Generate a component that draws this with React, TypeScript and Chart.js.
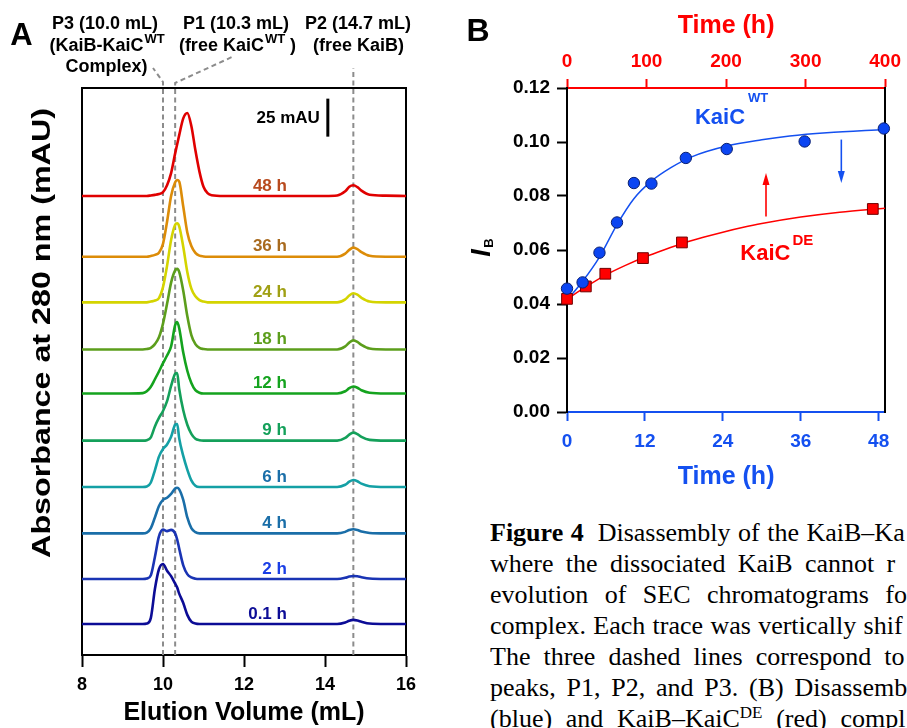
import React, { useEffect, useRef } from 'react';
import { Chart, registerables } from 'chart.js';

Chart.register(...registerables);

const FONT = "'Liberation Sans', Arial, Helvetica, sans-serif";
const BLUE = '#1450f0';
const RED = '#ff0000';

// ---------------- Panel A : SEC chromatograms ----------------
const elutionVolumes = [8, 9, 9.5, 9.6, 9.7, 9.8, 9.9, 10.0, 10.1, 10.2, 10.3, 10.35, 10.4, 10.5, 10.6, 10.7, 10.8, 10.9, 11.0, 11.1, 11.2, 11.5, 12, 13, 14, 14.3, 14.5, 14.6, 14.7, 14.8, 14.9, 15.1, 15.5, 16];
const volumeTicks = [8, 10, 12, 14, 16];
const timeLabels = ['0.1 h', '2 h', '4 h', '6 h', '9 h', '12 h', '18 h', '24 h', '36 h', '48 h'];
const traceOffsets = [20.4, 50, 80, 110.5, 141, 172, 201, 232, 262, 302];

const trace01h = [0, 0, 0, 0.3, 4, 23, 36, 39.5, 35, 31.5, 26.5, 24, 20, 13.8, 6, 1.5, 0.3, 0, 0, 0, 0, 0, 0, 0, 0, 0, 1, 2.2, 2.7, 2.3, 1.5, 0.3, 0, 0];
const trace2h = [0, 0, 0, 0.3, 2.5, 14.5, 28, 32.5, 31.5, 32.3, 30, 26, 20, 9, 3.2, 1, 0.2, 0, 0, 0, 0, 0, 0, 0, 0, 0, 0.8, 1.6, 2, 1.8, 1.2, 0.3, 0, 0];
const trace4h = [0, 0, 0, 0.5, 3.5, 10.5, 18, 22, 23.5, 26, 29.5, 30, 29, 22, 10.5, 3.5, 0.8, 0, 0, 0, 0, 0, 0, 0, 0, 0, 1, 2.2, 2.7, 2.2, 1.2, 0.3, 0, 0];
const trace6h = [0, 0, 0, 0.3, 3, 11, 20, 25, 28, 33, 41, 41.5, 32, 20.5, 11.5, 4.4, 0.8, 0, 0, 0, 0, 0, 0, 0, 0, 0, 1.5, 3.5, 4.6, 3.8, 2.2, 0.5, 0, 0];
const trace9h = [0, 0, 0, 0.3, 2.2, 9.4, 15, 19.5, 26, 36, 44, 44.5, 34, 20, 10.5, 4.5, 1.3, 0.3, 0, 0, 0, 0, 0, 0, 0, 0, 1.8, 4, 5.3, 4.3, 2.5, 0.5, 0, 0];
const trace12h = [0, 0, 0.3, 1.5, 4.5, 9.4, 14.5, 20, 25, 31, 45, 47, 43, 27, 15, 7, 2.2, 0.5, 0, 0, 0, 0, 0, 0, 0, 0, 1.5, 3.5, 4.6, 3.8, 2.2, 0.5, 0, 0];
const trace18h = [0, 0, 0, 0.3, 1, 3.5, 8, 17, 30, 44, 52, 53, 51, 38.6, 22, 9.5, 3.5, 1, 0.3, 0, 0, 0, 0, 0, 0, 0, 2, 4.5, 6, 5, 3, 0.6, 0, 0];
const trace24h = [0, 0, 0, 0, 0.5, 1.2, 2.8, 10, 24, 41, 51, 52, 50, 36.6, 20, 9, 4, 1.5, 0.5, 0, 0, 0, 0, 0, 0, 0, 2, 4.5, 6, 5, 3, 0.6, 0, 0];
const trace36h = [0, 0, 0, 0, 0.5, 1.2, 2.6, 8.5, 23, 40, 49, 50.5, 49.5, 33, 16, 7, 2.5, 0.7, 0.2, 0, 0, 0, 0, 0, 0, 0, 2, 4.5, 6, 5, 3, 0.6, 0, 0];
const trace48h = [0, 0, 0, 0, 0.3, 0.7, 1.3, 2.5, 7, 15, 28, 34, 40, 51, 54.6, 46, 30, 16, 6, 1.8, 0.5, 0, 0, 0, 0, 0.3, 3, 6, 7, 5.8, 3.5, 0.8, 0.2, 0];
const traces = [trace01h, trace2h, trace4h, trace6h, trace9h, trace12h, trace18h, trace24h, trace36h, trace48h];

const traceColors = ['#0c0c96', '#1a34b4', '#1a6ea8', '#14a0a5', '#14a05a', '#14a31e', '#5c9e1c', '#d4d400', '#dc8c08', '#e00000'];
const labelColors = ['#0c0c96', '#1a3ee6', '#1a6ea8', '#1a6ea8', '#14a05a', '#14a31e', '#5c9e1c', '#a0a014', '#a86a1e', '#b84a1e'];

const peakVolumes = [10.0, 10.3, 14.7];
const scaleBarVolume = 14.07;
const scaleBarStart = 341;
const scaleBarSize = 25;
const traceLabelVolume = 13.06;
const traceLabelLift = 6.6;

// ---------------- Panel B : I_B vs time ----------------
const hourTicks = [0, 12, 24, 36, 48];
const topHourTicks = [0, 100, 200, 300, 400];
const ibTicks = [0, 0.02, 0.04, 0.06, 0.08, 0.1, 0.12];

const wtTimes = [0, 2.4, 5.0, 7.7, 10.3, 13.0, 18.3, 24.6, 36.6, 48.8];
const wtValues = [0.0457, 0.048, 0.059, 0.0702, 0.0848, 0.0846, 0.0941, 0.0974, 0.1002, 0.105];
const deTimes = [0, 2.9, 5.9, 11.7, 17.7, 47.1];
const deValues = [0.0419, 0.0465, 0.0512, 0.057, 0.0628, 0.0752];

const wtFitTimes = [0.3, 2.4, 5, 7.7, 10.3, 13, 16, 19.2, 24.6, 30, 34.3, 40, 48.9];
const wtFitValues = [0.0422, 0.0484, 0.0574, 0.0694, 0.079, 0.0855, 0.0905, 0.0945, 0.0985, 0.1008, 0.1022, 0.1034, 0.1046];
const deFitTimes = [0, 3, 6, 9, 12, 15, 18, 21, 24, 27, 30, 36, 42, 49];
const deFitValues = [0.0418, 0.0465, 0.0508, 0.0543, 0.0574, 0.0601, 0.0626, 0.0647, 0.0666, 0.0683, 0.0698, 0.0722, 0.074, 0.0755];

const upArrow = { time: 30.65, from: 0.0724, to: 0.0885 };
const downArrow = { time: 42.25, from: 0.1009, to: 0.0848 };
const wtLabelPos = { time: 19.7, value: 0.109 };
const deLabelPos = { time: 26.7, value: 0.0586 };

type Part = { t: string; size: number; dy?: number; dx?: number };

function drawRich(ctx: CanvasRenderingContext2D, parts: Part[], x: number, y: number, align: 'left' | 'center' | 'right', color: string) {
  ctx.save();
  ctx.fillStyle = color;
  ctx.textBaseline = 'middle';
  ctx.textAlign = 'left';
  const widths = parts.map((p) => {
    ctx.font = `bold ${p.size}px ${FONT}`;
    return ctx.measureText(p.t).width + (p.dx || 0);
  });
  const total = widths.reduce((a, b) => a + b, 0);
  let cx = align === 'left' ? x : align === 'center' ? x - total / 2 : x - total;
  parts.forEach((p, i) => {
    ctx.font = `bold ${p.size}px ${FONT}`;
    ctx.fillText(p.t, cx + (p.dx || 0), y + (p.dy || 0));
    cx += widths[i];
  });
  ctx.restore();
}

const panelAPlugin = {
  id: 'panelA',
  beforeDatasetsDraw(chart: any) {
    const { ctx, chartArea, scales } = chart;
    const xs = scales.x;
    ctx.save();
    ctx.strokeStyle = '#8c8c8c';
    ctx.lineWidth = 2;
    ctx.setLineDash([5, 3.5]);
    peakVolumes.forEach((v, i) => {
      const px = xs.getPixelForValue(v);
      ctx.beginPath();
      ctx.moveTo(px, chartArea.bottom);
      if (i === 0) {
        ctx.lineTo(px, chartArea.top - 6);
        ctx.lineTo(153, 68);
      } else if (i === 1) {
        ctx.lineTo(px, chartArea.top - 5);
        ctx.lineTo(232, 57);
      } else {
        ctx.lineTo(px, 68);
      }
      ctx.stroke();
    });
    ctx.restore();
  },
  afterDraw(chart: any) {
    const { ctx, scales } = chart;
    const xs = scales.x;
    const ys = scales.y;
    ctx.save();
    ctx.fillStyle = '#000';
    ctx.font = `bold 31px ${FONT}`;
    ctx.textAlign = 'center';
    ctx.textBaseline = 'middle';
    ctx.fillText('A', 21.5, 36);
    ctx.restore();

    drawRich(ctx, [{ t: 'P3 (10.0 mL)', size: 18 }], 105, 24, 'center', '#000');
    drawRich(ctx, [{ t: '(KaiB-KaiC', size: 18 }, { t: 'WT', size: 13, dy: -7, dx: 1 }], 107, 46, 'center', '#000');
    drawRich(ctx, [{ t: 'Complex)', size: 18 }], 106.5, 67, 'center', '#000');
    drawRich(ctx, [{ t: 'P1 (10.3 mL)', size: 18 }], 236, 24, 'center', '#000');
    drawRich(ctx, [{ t: '(free KaiC', size: 18 }, { t: 'WT', size: 13, dy: -7, dx: 1 }, { t: ' )', size: 18 }], 237.5, 46, 'center', '#000');
    drawRich(ctx, [{ t: 'P2 (14.7 mL)', size: 18 }], 358, 24, 'center', '#000');
    drawRich(ctx, [{ t: '(free KaiB)', size: 18 }], 358.5, 46, 'center', '#000');

    timeLabels.forEach((lab, i) => {
      drawRich(ctx, [{ t: lab, size: 17 }], xs.getPixelForValue(traceLabelVolume), ys.getPixelForValue(traceOffsets[i] + traceLabelLift), 'right', labelColors[i]);
    });

    const bx = xs.getPixelForValue(scaleBarVolume);
    const by1 = ys.getPixelForValue(scaleBarStart);
    const by2 = ys.getPixelForValue(scaleBarStart + scaleBarSize);
    ctx.save();
    ctx.strokeStyle = '#000';
    ctx.lineWidth = 3;
    ctx.beginPath();
    ctx.moveTo(bx, by1);
    ctx.lineTo(bx, by2);
    ctx.stroke();
    ctx.restore();
    drawRich(ctx, [{ t: '25 mAU', size: 17 }], bx - 8, (by1 + by2) / 2 + 1, 'right', '#000');

    ctx.save();
    ctx.translate(43, 333);
    ctx.rotate(-Math.PI / 2);
    ctx.scale(1.29, 1);
    ctx.fillStyle = '#000';
    ctx.font = `bold 25px ${FONT}`;
    ctx.textAlign = 'center';
    ctx.textBaseline = 'middle';
    ctx.fillText('Absorbance at 280 nm (mAU)', 0, 0);
    ctx.restore();
  },
};

function drawArrow(ctx: CanvasRenderingContext2D, x: number, yTail: number, yHead: number, color: string) {
  const dir = Math.sign(yHead - yTail);
  ctx.save();
  ctx.strokeStyle = color;
  ctx.fillStyle = color;
  ctx.lineWidth = 1.6;
  ctx.beginPath();
  ctx.moveTo(x, yTail);
  ctx.lineTo(x, yHead - dir * 10);
  ctx.stroke();
  ctx.beginPath();
  ctx.moveTo(x, yHead);
  ctx.lineTo(x - 3.5, yHead - dir * 12);
  ctx.lineTo(x + 3.5, yHead - dir * 12);
  ctx.closePath();
  ctx.fill();
  ctx.restore();
}

const panelBPlugin = {
  id: 'panelB',
  afterDraw(chart: any) {
    const { ctx, scales } = chart;
    const xs = scales.x;
    const ys = scales.y;
    ctx.save();
    ctx.fillStyle = '#000';
    ctx.font = `bold 32px ${FONT}`;
    ctx.textAlign = 'center';
    ctx.textBaseline = 'middle';
    ctx.fillText('B', 18, 32);
    ctx.restore();

    drawArrow(ctx, xs.getPixelForValue(upArrow.time), ys.getPixelForValue(upArrow.from), ys.getPixelForValue(upArrow.to), RED);
    drawArrow(ctx, xs.getPixelForValue(downArrow.time), ys.getPixelForValue(downArrow.from), ys.getPixelForValue(downArrow.to), BLUE);

    drawRich(ctx, [{ t: 'KaiC', size: 22 }, { t: 'WT', size: 13, dy: -19, dx: 3 }], xs.getPixelForValue(wtLabelPos.time), ys.getPixelForValue(wtLabelPos.value), 'left', BLUE);
    drawRich(ctx, [{ t: 'KaiC', size: 22 }, { t: 'DE', size: 15, dy: -12.5, dx: 2 }], xs.getPixelForValue(deLabelPos.time), ys.getPixelForValue(deLabelPos.value), 'left', RED);

    ctx.save();
    ctx.fillStyle = '#000';
    ctx.translate(23, 253);
    ctx.rotate(-Math.PI / 2);
    ctx.textAlign = 'center';
    ctx.textBaseline = 'middle';
    ctx.font = `italic bold 27px ${FONT}`;
    ctx.fillText('I', 0, 0);
    ctx.font = `bold 13px ${FONT}`;
    ctx.fillText('B', 10, 6);
    ctx.restore();
  },
};

const boldFont = (size: number) => ({ family: FONT, size, weight: 'bold' as const });

export default function App() {
  const refA = useRef<HTMLCanvasElement>(null);
  const refB = useRef<HTMLCanvasElement>(null);

  useEffect(() => {
    Chart.defaults.font.family = FONT;

    const datasetsA = traces.map((vals, i) => ({
      label: timeLabels[i],
      data: elutionVolumes.map((v, j) => ({ x: v, y: traceOffsets[i] + vals[j] })),
      borderColor: traceColors[i],
      borderWidth: 2.6,
      pointRadius: 0,
      fill: false,
      cubicInterpolationMode: 'monotone' as const,
    }));

    const chartA = new Chart(refA.current as HTMLCanvasElement, {
      type: 'line',
      data: { datasets: datasetsA as any },
      options: {
        responsive: false,
        animation: false,
        devicePixelRatio: 1,
        events: [],
        layout: { padding: 0 },
        plugins: { legend: { display: false }, tooltip: { enabled: false } },
        scales: {
          x: {
            type: 'linear',
            position: 'bottom',
            min: 8,
            max: 16,
            afterBuildTicks: (s: any) => { s.ticks = volumeTicks.map((v) => ({ value: v })); },
            ticks: { color: '#000', font: boldFont(18), padding: 7, maxRotation: 0, autoSkip: false },
            grid: { display: true, drawOnChartArea: false, drawTicks: true, tickLength: 12, tickWidth: 2, tickColor: '#000' },
            border: { display: true, color: '#000', width: 2 },
            title: { display: true, text: 'Elution Volume (mL)', color: '#000', font: boldFont(25), padding: { top: 0, bottom: 0 } },
            afterFit: (s: any) => { s.height = 73; },
          },
          xTop: {
            type: 'linear',
            position: 'top',
            min: 8,
            max: 16,
            ticks: { display: false },
            grid: { display: false },
            border: { display: true, color: '#000', width: 2 },
            afterFit: (s: any) => { s.height = 88; },
          },
          y: {
            type: 'linear',
            position: 'left',
            min: 0,
            max: 373,
            ticks: { display: false },
            grid: { display: false },
            border: { display: true, color: '#000', width: 2 },
            afterFit: (s: any) => { s.width = 82; },
          },
          yRight: {
            type: 'linear',
            position: 'right',
            min: 0,
            max: 373,
            ticks: { display: false },
            grid: { display: false },
            border: { display: true, color: '#000', width: 2 },
            afterFit: (s: any) => { s.width = 54; },
          },
        } as any,
      },
      plugins: [panelAPlugin],
    });

    const chartB = new Chart(refB.current as HTMLCanvasElement, {
      type: 'line',
      data: {
        datasets: [
          {
            label: 'KaiC WT',
            data: wtTimes.map((t, i) => ({ x: t, y: wtValues[i] })),
            showLine: false,
            pointStyle: 'circle',
            pointRadius: 5.7,
            backgroundColor: '#0b45f2',
            borderColor: '#0a1f70',
            borderWidth: 1,
            clip: false,
            order: 0,
          },
          {
            label: 'KaiC DE',
            data: deTimes.map((t, i) => ({ x: t, y: deValues[i] })),
            showLine: false,
            pointStyle: 'rect',
            pointRadius: 7.6,
            backgroundColor: '#ff0000',
            borderColor: '#700000',
            borderWidth: 1,
            clip: false,
            order: 0,
          },
          {
            label: 'WT fit',
            data: wtFitTimes.map((t, i) => ({ x: t, y: wtFitValues[i] })),
            borderColor: BLUE,
            borderWidth: 1.5,
            pointRadius: 0,
            fill: false,
            cubicInterpolationMode: 'monotone',
            order: 1,
          },
          {
            label: 'DE fit',
            data: deFitTimes.map((t, i) => ({ x: t, y: deFitValues[i] })),
            borderColor: RED,
            borderWidth: 1.5,
            pointRadius: 0,
            fill: false,
            cubicInterpolationMode: 'monotone',
            order: 1,
          },
        ] as any,
      },
      options: {
        responsive: false,
        animation: false,
        devicePixelRatio: 1,
        events: [],
        layout: { padding: 0 },
        plugins: { legend: { display: false }, tooltip: { enabled: false } },
        scales: {
          x: {
            type: 'linear',
            position: 'bottom',
            min: 0,
            max: 49,
            afterBuildTicks: (s: any) => { s.ticks = hourTicks.map((v) => ({ value: v })); },
            ticks: { color: BLUE, font: boldFont(19), padding: 9, maxRotation: 0, autoSkip: false },
            grid: { display: true, drawOnChartArea: false, drawTicks: true, tickLength: 9, tickWidth: 2, tickColor: BLUE },
            border: { display: true, color: BLUE, width: 2 },
            title: { display: true, text: 'Time (h)', color: BLUE, font: boldFont(25), padding: { top: 0, bottom: 8 } },
            afterFit: (s: any) => { s.height = 88; },
          },
          xTop: {
            type: 'linear',
            position: 'top',
            min: 0,
            max: 400,
            afterBuildTicks: (s: any) => { s.ticks = topHourTicks.map((v) => ({ value: v })); },
            ticks: { color: RED, font: boldFont(19), padding: 6, maxRotation: 0, autoSkip: false },
            grid: { display: true, drawOnChartArea: false, drawTicks: true, tickLength: 9, tickWidth: 2, tickColor: RED },
            border: { display: true, color: RED, width: 2 },
            title: { display: true, text: 'Time (h)', color: RED, font: boldFont(25), padding: { top: 11, bottom: 0 } },
            afterFit: (s: any) => { s.height = 88; },
          },
          y: {
            type: 'linear',
            position: 'left',
            min: 0,
            max: 0.12,
            afterBuildTicks: (s: any) => { s.ticks = ibTicks.map((v) => ({ value: v })); },
            ticks: { color: '#000', font: boldFont(19), padding: 7, callback: (v: any) => Number(v).toFixed(2) },
            grid: { display: true, drawOnChartArea: false, drawTicks: true, tickLength: 10, tickWidth: 2, tickColor: '#000' },
            border: { display: true, color: '#000', width: 2 },
            afterFit: (s: any) => { s.width = 107; },
          },
          yRight: {
            type: 'linear',
            position: 'right',
            min: 0,
            max: 0.12,
            ticks: { display: false },
            grid: { display: false },
            border: { display: true, color: '#000', width: 2 },
            afterFit: (s: any) => { s.width = 16; },
          },
        } as any,
      },
      plugins: [panelBPlugin],
    });

    return () => {
      chartA.destroy();
      chartB.destroy();
    };
  }, []);

  const line: React.CSSProperties = { whiteSpace: 'nowrap', height: 31 };

  return (
    <div style={{ position: 'fixed', left: 0, top: 0, width: 907, height: 728, background: '#fff', overflow: 'hidden' }}>
      <canvas ref={refA} width={460} height={728} style={{ position: 'absolute', left: 0, top: 0 }} />
      <canvas ref={refB} width={447} height={500} style={{ position: 'absolute', left: 460, top: 0 }} />
      <div
        style={{
          position: 'absolute',
          left: 490,
          top: 517,
          width: 417,
          height: 211,
          overflow: 'hidden',
          fontFamily: "'Liberation Serif', 'Times New Roman', serif",
          fontSize: 26,
          lineHeight: '31px',
          color: '#000',
        }}
      >
        <div style={{ ...line, wordSpacing: 1 }}>
          <b>Figure 4</b>
          <span style={{ paddingLeft: 14 }}>Disassembly of the KaiB–Ka</span>
        </div>
        <div style={{ ...line, wordSpacing: 5.8 }}>where the dissociated KaiB cannot r</div>
        <div style={{ ...line, wordSpacing: 10 }}>evolution of SEC chromatograms fo</div>
        <div style={{ ...line, wordSpacing: 0.8 }}>complex. Each trace was vertically shif</div>
        <div style={{ ...line, wordSpacing: 6.5 }}>The three dashed lines correspond to</div>
        <div style={{ ...line, wordSpacing: 4.3 }}>peaks, P1, P2, and P3. (B) Disassemb</div>
        <div style={{ ...line, wordSpacing: 7.2 }}>
          (blue) and KaiB–KaiC<span style={{ fontSize: 17, position: 'relative', top: -9 }}>DE</span> (red) compl
        </div>
      </div>
    </div>
  );
}
